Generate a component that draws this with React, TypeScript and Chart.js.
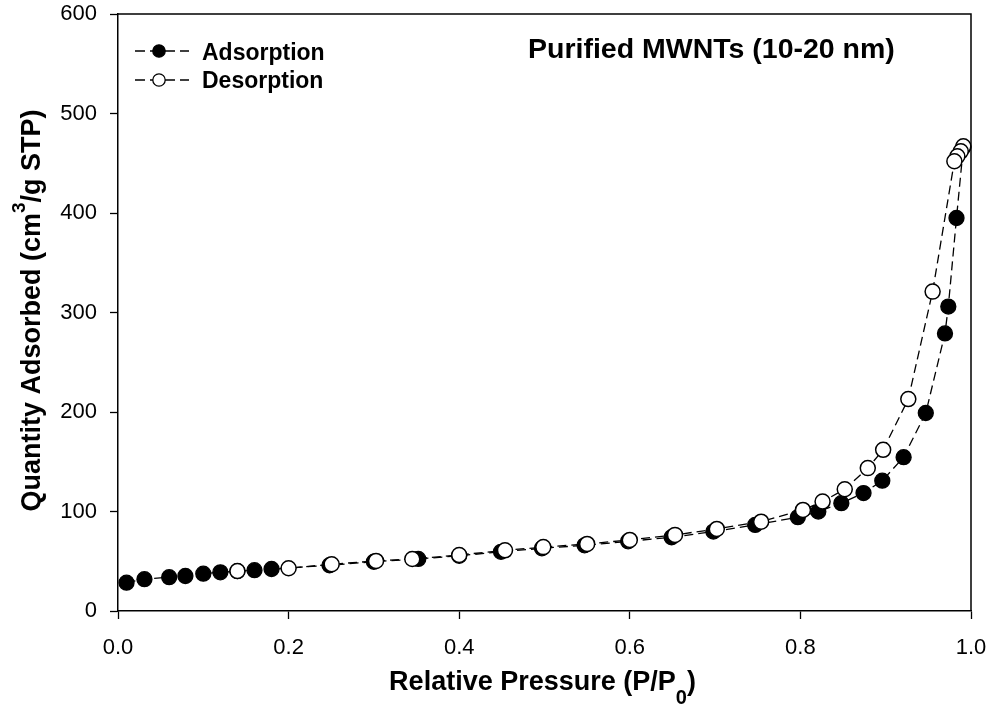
import React, { useEffect, useRef } from "react";
import { Chart, registerables } from "chart.js";

Chart.register(...registerables);

const FONT = '"Liberation Sans", Arial, Helvetica, sans-serif';

// Adsorption branch (filled circles)
const adsP = [0.010, 0.031, 0.060, 0.079, 0.100, 0.120, 0.140, 0.160, 0.180, 0.248, 0.300, 0.352, 0.400, 0.449, 0.497, 0.547, 0.598, 0.649, 0.698, 0.747, 0.797, 0.821, 0.848, 0.874, 0.896, 0.921, 0.947, 0.9695, 0.9734, 0.983, 0.991];
const adsV = [28.5, 32, 34, 35.2, 37.5, 38.9, 40, 41, 42.2, 46, 49.5, 52.3, 55.5, 59.5, 63, 66, 70, 74.1, 79.8, 86.5, 94.3, 99.9, 108.4, 118.5, 131, 154.6, 199, 279, 306, 395, 466];

// Desorption branch (open circles)
const desP = [0.991, 0.988, 0.984, 0.9805, 0.955, 0.9265, 0.897, 0.879, 0.852, 0.826, 0.803, 0.754, 0.702, 0.653, 0.600, 0.550, 0.4986, 0.4537, 0.400, 0.345, 0.3025, 0.2505, 0.200, 0.140];
const desV = [467, 462, 457, 452, 321, 213, 162, 143.6, 122.4, 110, 101.6, 89.8, 82.5, 76.5, 71.4, 67.4, 64.2, 61, 56.3, 52.3, 50.3, 47, 43, 40.2];

const xTickValues = [0, 0.2, 0.4, 0.6, 0.8, 1.0];
const yTickValues = [0, 100, 200, 300, 400, 500, 600];

const seriesNames = ["Adsorption", "Desorption"];
const chartTitle = "Purified MWNTs (10-20 nm)";
const xTitleParts = ["Relative Pressure (P/P", "0", ")"];
const yTitleParts = ["Quantity Adsorbed (cm", "3", "/g STP)"];

const DASH = [9, 5];

function drawComposite(
  ctx: CanvasRenderingContext2D,
  parts: string[],
  cx: number,
  baseline: number,
  mainSize: number,
  smallSize: number,
  smallShift: number
) {
  const mainFont = `bold ${mainSize}px ${FONT}`;
  const smallFont = `bold ${smallSize}px ${FONT}`;
  const widths = parts.map((p, i) => {
    ctx.font = i === 1 ? smallFont : mainFont;
    return ctx.measureText(p).width;
  });
  const total = widths.reduce((a, b) => a + b, 0);
  let x = cx - total / 2;
  ctx.textAlign = "left";
  ctx.textBaseline = "alphabetic";
  parts.forEach((p, i) => {
    ctx.font = i === 1 ? smallFont : mainFont;
    ctx.fillText(p, x, i === 1 ? baseline + smallShift : baseline);
    x += widths[i];
  });
}

const decorPlugin = {
  id: "decor",
  afterDraw(chart: any) {
    const ctx: CanvasRenderingContext2D = chart.ctx;
    const a = chart.chartArea;
    ctx.save();
    // frame top and right
    ctx.strokeStyle = "#000";
    ctx.lineWidth = 1.5;
    ctx.beginPath();
    ctx.moveTo(a.left, a.top);
    ctx.lineTo(a.right, a.top);
    ctx.lineTo(a.right, a.bottom);
    ctx.stroke();

    ctx.fillStyle = "#000";
    // chart title
    ctx.font = `bold 28.5px ${FONT}`;
    ctx.textAlign = "left";
    ctx.textBaseline = "alphabetic";
    ctx.fillText(chartTitle, 528, 58);

    // legend
    const rows = [
      { y: 51, fill: "#000", text: seriesNames[0], base: 60 },
      { y: 80, fill: "#fff", text: seriesNames[1], base: 88 },
    ];
    rows.forEach((r) => {
      ctx.setLineDash([10, 5]);
      ctx.lineWidth = 1.3;
      ctx.strokeStyle = "#000";
      ctx.beginPath();
      ctx.moveTo(135, r.y);
      ctx.lineTo(189, r.y);
      ctx.stroke();
      ctx.setLineDash([]);
      ctx.beginPath();
      ctx.arc(159, r.y, 6.2, 0, Math.PI * 2);
      ctx.fillStyle = r.fill;
      ctx.fill();
      ctx.lineWidth = 1.3;
      ctx.stroke();
      ctx.fillStyle = "#000";
      ctx.font = `bold 23px ${FONT}`;
      ctx.fillText(r.text, 202, r.base);
    });

    // x axis title
    drawComposite(ctx, xTitleParts, (a.left + a.right) / 2 - 2, 690, 27, 20, 14);

    // y axis title (rotated)
    ctx.save();
    ctx.translate(40, (a.top + a.bottom) / 2 - 2);
    ctx.rotate(-Math.PI / 2);
    drawComposite(ctx, yTitleParts, 0, 0, 27, 19, -15);
    ctx.restore();

    ctx.restore();
  },
};

export default function App() {
  const ref = useRef<HTMLCanvasElement | null>(null);

  useEffect(() => {
    if (!ref.current) return;
    const chart = new Chart(ref.current, {
      type: "scatter",
      data: {
        datasets: [
          {
            label: seriesNames[0],
            data: adsP.map((p, i) => ({ x: p, y: adsV[i] })),
            showLine: true,
            borderColor: "#000",
            borderWidth: 1.3,
            borderDash: DASH,
            pointRadius: 7.5,
            pointBackgroundColor: "#000",
            pointBorderColor: "#000",
            pointBorderWidth: 1.3,
            order: 2,
            clip: false as any,
          },
          {
            label: seriesNames[1],
            data: desP.map((p, i) => ({ x: p, y: desV[i] })),
            showLine: true,
            borderColor: "#000",
            borderWidth: 1.3,
            borderDash: DASH,
            pointRadius: 7.5,
            pointBackgroundColor: "#fff",
            pointBorderColor: "#000",
            pointBorderWidth: 1.5,
            order: 1,
            clip: false as any,
          },
        ],
      },
      options: {
        animation: false,
        responsive: false,
        devicePixelRatio: 1,
        layout: { padding: { left: 0, top: 14, right: 20, bottom: 0 } },
        plugins: {
          legend: { display: false },
          tooltip: { enabled: false },
          title: { display: false },
        },
        scales: {
          x: {
            type: "linear",
            min: 0,
            max: 1,
            afterBuildTicks: (scale: any) => {
              scale.ticks = xTickValues.map((v) => ({ value: v }));
            },
            afterFit: (scale: any) => {
              scale.height = 97;
              scale.paddingLeft = 0;
              scale.paddingRight = 0;
            },
            ticks: {
              color: "#000",
              font: { family: FONT, size: 22 },
              padding: 16,
              maxRotation: 0,
              autoSkip: false,
              callback: (v: any) => Number(v).toFixed(1),
            },
            grid: {
              display: true,
              drawOnChartArea: false,
              drawTicks: true,
              tickLength: 8,
              tickColor: "#000",
              tickWidth: 1.3,
            },
            border: { display: true, color: "#000", width: 1.5 },
            title: { display: false },
          },
          y: {
            type: "linear",
            min: 0,
            max: 600,
            afterBuildTicks: (scale: any) => {
              scale.ticks = yTickValues.map((v) => ({ value: v }));
            },
            afterFit: (scale: any) => {
              scale.width = 118;
              scale.paddingTop = 0;
              scale.paddingBottom = 0;
            },
            ticks: {
              color: "#000",
              font: { family: FONT, size: 22 },
              padding: 13,
              autoSkip: false,
              callback: (v: any) => String(v),
            },
            grid: {
              display: true,
              drawOnChartArea: false,
              drawTicks: true,
              tickLength: 8,
              tickColor: "#000",
              tickWidth: 1.3,
            },
            border: { display: true, color: "#000", width: 1.5 },
            title: { display: false },
          },
        },
      },
      plugins: [decorPlugin],
    });
    return () => chart.destroy();
  }, []);

  return (
    <div style={{ position: "absolute", left: 0, top: 0, width: 991, height: 708, background: "#fff" }}>
      <canvas ref={ref} width={991} height={708} style={{ display: "block", width: 991, height: 708 }} />
    </div>
  );
}
